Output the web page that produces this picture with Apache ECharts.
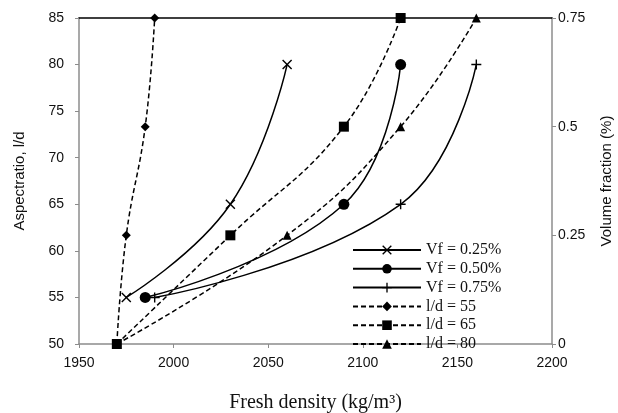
<!DOCTYPE html>
<html>
<head>
<meta charset="utf-8">
<script src="https://cdn.jsdelivr.net/npm/echarts@6/dist/echarts.min.js"></script>
<style>
  html,body{margin:0;padding:0;background:#fff}
  #chart{width:618px;height:413px}
</style>
</head>
<body>
<div id="chart"></div>
<script>
// ---------- data ----------
const aspectRatio = [55, 65, 80];            // l/d, left axis
const densityVf025 = [1975, 2030, 2060];
const densityVf050 = [1985, 2090, 2120];
const densityVf075 = [1990, 2120, 2160];

const volFraction = [0, 0.25, 0.5, 0.75];   // %, right axis
const densityLd55 = [1970, 1975, 1985, 1990];
const densityLd65 = [1970, 2030, 2090, 2120];
const densityLd80 = [1970, 2060, 2120, 2160];

const seriesNames = ['Vf = 0.25%', 'Vf = 0.50%', 'Vf = 0.75%', 'l/d = 55', 'l/d = 65', 'l/d = 80'];

// ---------- helpers ----------
const pair = (xs, ys) => xs.map((x, i) => [x, ys[i]]);
const SYM_X = 'path://M0,1L1,0L5,4L9,0L10,1L6,5L10,9L9,10L5,6L1,10L0,9L4,5Z';
const SYM_PLUS = 'path://M4.3,0H5.7V4.3H10V5.7H5.7V10H4.3V5.7H0V4.3H4.3Z';
const axisGrey = '#8c8c8c';
const sans = 'Liberation Sans, Arial, sans-serif';
const serif = 'Liberation Serif, Times New Roman, serif';

function mk(name, data, yIdx, symbol, size, dashed){
  return {
    name, type:'line', data, yAxisIndex:yIdx, smooth:0.45,
    symbol, symbolSize:size, showSymbol:true,
    lineStyle:{color:'#000', width:1.5, type: dashed ? [5,3] : 'solid'},
    itemStyle:{color:'#000'}
  };
}

const chart = echarts.init(document.getElementById('chart'), null, {renderer:'canvas'});
chart.setOption({
  animation:false,
  backgroundColor:'#fff',
  grid:{left:79, right:66, top:18, bottom:69, outerBoundsMode:'none', containLabel:false},
  legend:{
    orient:'vertical', left:347, top:237,
    itemWidth:68, itemHeight:12, itemGap:2.8,
    data:seriesNames,
    textStyle:{fontFamily:serif, fontSize:16, lineHeight:15, color:'#111'}
  },
  xAxis:[{
    type:'value', min:1950, max:2200, interval:50,
    name:'Fresh density (kg/m³)', nameLocation:'middle', nameGap:49,
    nameTextStyle:{fontFamily:serif, fontSize:20, color:'#111'},
    axisLine:{lineStyle:{color:axisGrey, width:1.5}},
    axisTick:{show:true, length:4, lineStyle:{color:axisGrey}},
    axisLabel:{fontFamily:sans, fontSize:14, color:'#111', margin:12, formatter:v => String(v)},
    splitLine:{show:false}
  },{
    type:'value', position:'top', min:1950, max:2200,
    axisLine:{show:true, lineStyle:{color:'#000', width:1.5}},
    axisTick:{show:false}, axisLabel:{show:false}, splitLine:{show:false}
  }],
  yAxis:[{
    type:'value', min:50, max:85, interval:5,
    name:'Aspectratio, l/d', nameLocation:'middle', nameGap:52, nameRotate:90,
    nameTextStyle:{fontFamily:sans, fontSize:15, color:'#111'},
    axisLine:{show:true, lineStyle:{color:axisGrey, width:1.5}},
    axisTick:{show:true, length:4, lineStyle:{color:axisGrey}},
    axisLabel:{fontFamily:sans, fontSize:14, color:'#111', margin:15},
    splitLine:{show:false}
  },{
    type:'value', min:0, max:0.75, interval:0.25, position:'right',
    name:'Volume fraction (%)', nameLocation:'middle', nameGap:47, nameRotate:90,
    nameTextStyle:{fontFamily:sans, fontSize:15, color:'#111'},
    axisLine:{show:true, lineStyle:{color:axisGrey, width:1.5}},
    axisTick:{show:true, length:4, lineStyle:{color:axisGrey}},
    axisLabel:{fontFamily:sans, fontSize:14, color:'#111', margin:6},
    splitLine:{show:false}
  }],
  series:[
    mk(seriesNames[0], pair(densityVf025, aspectRatio), 0, SYM_X, 10, false),
    mk(seriesNames[1], pair(densityVf050, aspectRatio), 0, 'circle', 11, false),
    mk(seriesNames[2], pair(densityVf075, aspectRatio), 0, SYM_PLUS, 10, false),
    mk(seriesNames[3], pair(densityLd55, volFraction), 1, 'diamond', 9, true),
    mk(seriesNames[4], pair(densityLd65, volFraction), 1, 'rect', 10, true),
    mk(seriesNames[5], pair(densityLd80, volFraction), 1, 'triangle', 9, true)
  ]
});
</script>
</body>
</html>
